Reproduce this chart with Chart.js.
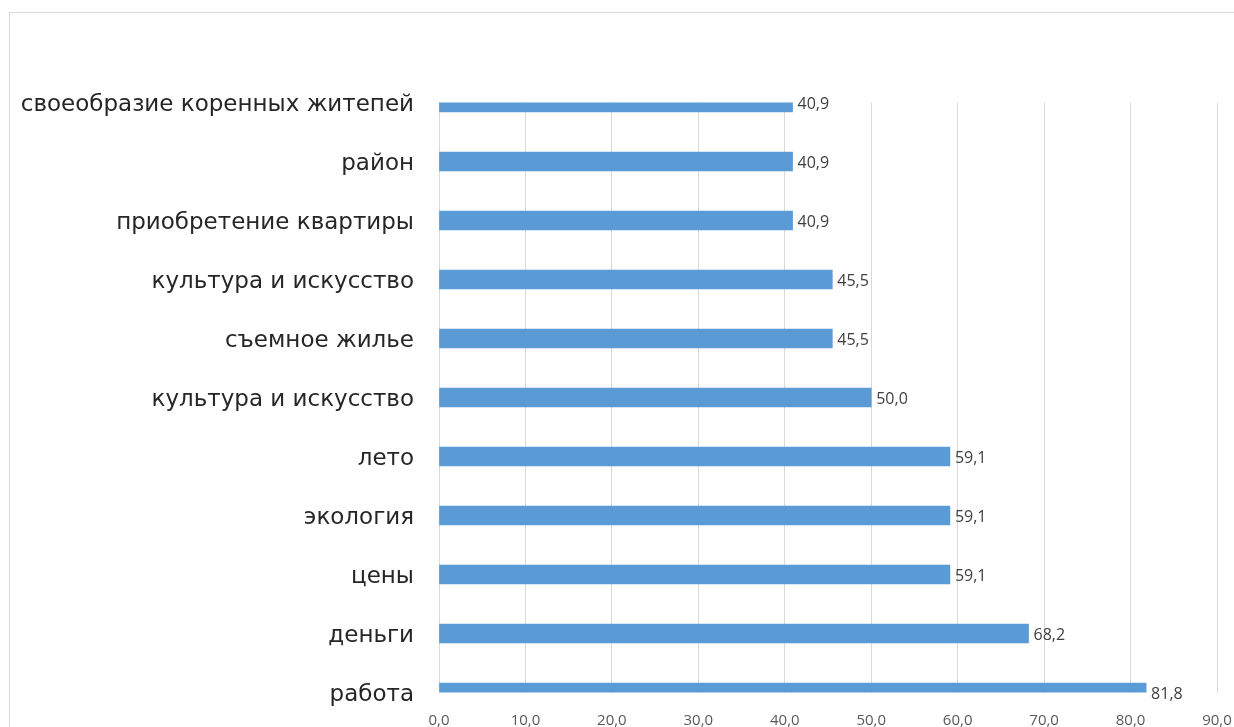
<!DOCTYPE html>
<html>
<head>
<meta charset="utf-8">
<script src="https://cdn.jsdelivr.net/npm/chart.js@4"></script>
<style>
  html, body { margin: 0; padding: 0; background: #fff; }
  #wrap { position: relative; width: 1234px; height: 727px; overflow: hidden; }
  #frame { position: absolute; left: 9px; top: 12px; width: 1300px; height: 800px;
           border-top: 1px solid #d9d9d9; border-left: 1px solid #d9d9d9; }
  canvas { position: absolute; left: 0; top: 0; }
</style>
</head>
<body>
<div id="wrap">
  <div id="frame"></div>
  <canvas id="chart" width="1234" height="727"></canvas>
</div>
<script>
const categories = [
    "своеобразие коренных житепей",
    "район",
    "приобретение квартиры",
    "культура и искусство",
    "съемное жилье",
    "культура и искусство",
    "лето",
    "экология",
    "цены",
    "деньги",
    "работа",
];
const values = [40.9, 40.9, 40.9, 45.5, 45.5, 50.0, 59.1, 59.1, 59.1, 68.2, 81.8];
const xTicks = [0, 10, 20, 30, 40, 50, 60, 70, 80, 90];

const fmt = (v) => v.toFixed(1).replace(".", ",");

// value labels at the end of each bar
const barLabels = {
    id: "barLabels",
    afterDatasetsDraw(chart) {
        const ctx = chart.ctx;
        const meta = chart.getDatasetMeta(0);
        ctx.save();
        ctx.font = "16px 'Open Sans'";
        ctx.fillStyle = "#404040";
        ctx.textAlign = "left";
        ctx.textBaseline = "middle";
        meta.data.forEach((bar, i) => {
            ctx.fillText(fmt(values[i]), bar.x + 5, bar.y + 2);
        });
        ctx.restore();
    },
};

const chartD = document.getElementById("chart");
const myChart = new Chart(chartD, {
    type: "bar",
    data: {
        labels: categories,
        datasets: [
            {
                data: values,
                backgroundColor: "#5b9bd5",
                barThickness: 19,
                clip: 0,
            },
        ],
    },
    options: {
        indexAxis: "y",
        responsive: false,
        animation: false,
        layout: { padding: { top: 102.5, right: 17, left: 0, bottom: 0 } },
        plugins: { legend: { display: false }, tooltip: { enabled: false } },
        scales: {
            x: {
                min: 0,
                max: 90,
                afterBuildTicks: (axis) => {
                    axis.ticks = xTicks.map((v) => ({ value: v }));
                },
                afterFit: (axis) => {
                    axis.height = 34.5;
                    axis.paddingLeft = 0;
                    axis.paddingRight = 0;
                },
                grid: { color: "#d9d9d9", drawTicks: false },
                border: { display: false },
                ticks: {
                    padding: 19,
                    color: "#595959",
                    font: { family: "'Liberation Sans Narrow', 'Open Sans'", size: 15 },
                    callback: (v) => fmt(v),
                },
            },
            y: {
                offset: false,
                afterFit: (axis) => {
                    axis.width = 439;
                    axis.paddingTop = 0;
                    axis.paddingBottom = 0;
                },
                grid: { display: false, drawTicks: false },
                border: { display: true, color: "#d9d9d9" },
                ticks: {
                    padding: 25,
                    labelOffset: 3,
                    color: "#262626",
                    font: { family: "'DejaVu Sans'", size: 23 },
                },
            },
        },
    },
    plugins: [barLabels],
});
</script>
</body>
</html>
